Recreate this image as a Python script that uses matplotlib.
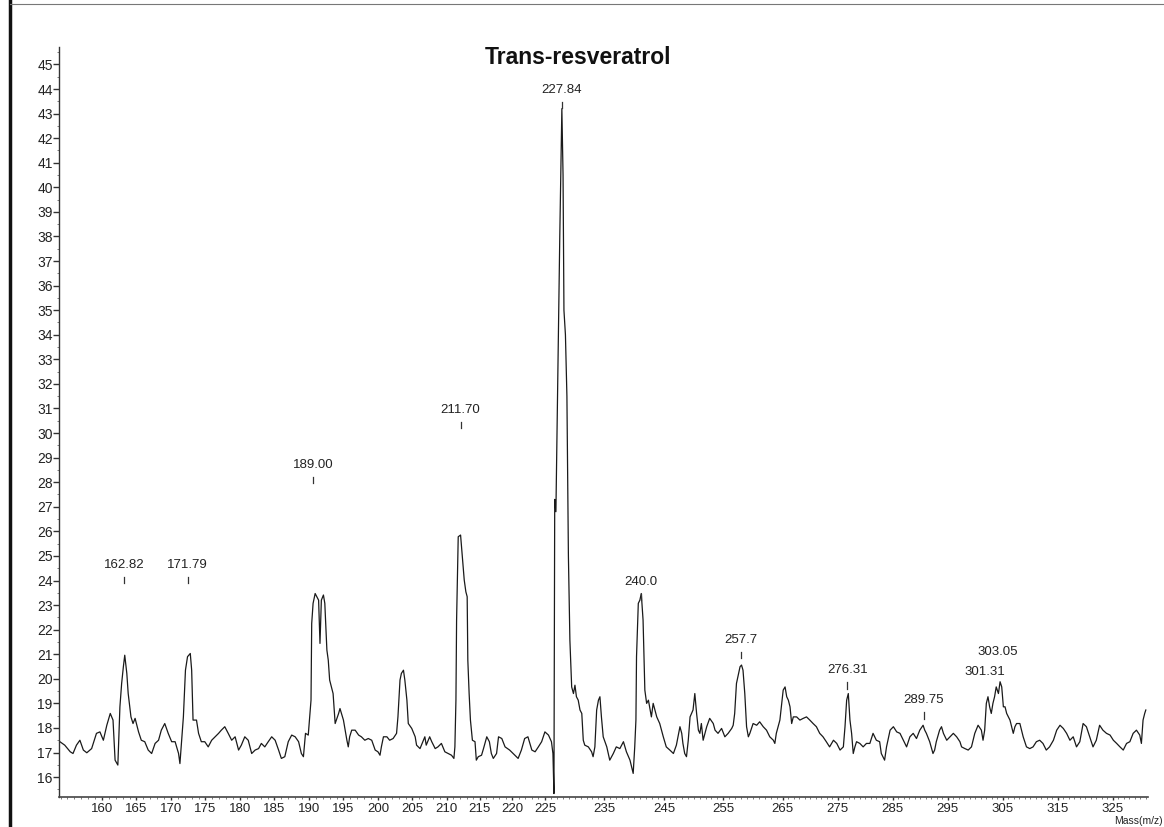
import numpy as np
import matplotlib
matplotlib.use("Agg")
import matplotlib.pyplot as plt
from matplotlib.lines import Line2D

plt.rcParams["font.family"] = ["Liberation Sans", "DejaVu Sans"]

# ---------------- data (m/z, intensity) ----------------
mz_a = [153.9, 154.6, 155.4, 155.8, 156.3, 156.8, 157.3, 157.8, 158.5, 159.2,
        159.7, 160.2, 160.7, 161.2, 161.6, 161.9, 162.3, 162.6, 162.85, 163.1,
        163.3, 163.6, 163.8, 164.2, 164.5, 164.8, 165.3, 165.7, 166.2, 166.7,
        167.2, 167.7, 168.2, 168.6, 169.1, 169.6, 170.1, 170.6, 171.1, 171.3,
        171.5, 171.8, 172.1, 172.4, 172.8, 173.0, 173.2, 173.7, 174.0, 174.4,
        174.9, 175.4, 175.9, 176.4, 176.9, 177.3, 177.8, 178.3, 178.8, 179.3,
        179.8, 180.2, 180.7, 181.2, 181.7, 182.2, 182.7, 183.1, 183.6, 184.1,
        184.6, 185.1, 185.6, 186.0, 186.5, 187.0, 187.5, 188.0, 188.5, 188.9,
        189.2, 189.5, 189.9, 190.3, 190.4, 190.6, 190.9, 191.4, 191.6, 191.8,
        192.1, 192.3, 192.6, 192.8, 193.0, 193.5, 193.8, 194.3, 194.5, 195.0]
int_a = [17.44, 17.30, 17.03, 16.96, 17.30, 17.50, 17.10, 16.99, 17.16, 17.78,
         17.84, 17.50, 18.11, 18.59, 18.32, 16.69, 16.49, 18.86, 19.81, 20.49,
         20.96, 20.22, 19.40, 18.45, 18.18, 18.39, 17.84, 17.50, 17.44, 17.10,
         16.96, 17.37, 17.50, 17.91, 18.18, 17.78, 17.44, 17.44, 16.96, 16.55,
         17.30, 18.45, 20.35, 20.90, 21.03, 20.35, 18.32, 18.32, 17.78, 17.44,
         17.44, 17.23, 17.50, 17.64, 17.78, 17.91, 18.05, 17.78, 17.50, 17.64,
         17.10, 17.30, 17.64, 17.50, 16.96, 17.10, 17.16, 17.37, 17.23, 17.44,
         17.64, 17.50, 17.10, 16.76, 16.83, 17.44, 17.71, 17.64, 17.44, 16.96,
         16.83, 17.78, 17.71, 19.13, 22.25, 23.07, 23.47, 23.20, 21.44, 23.20,
         23.41, 23.07, 21.17, 20.76, 19.95, 19.40, 18.18, 18.59, 18.79, 18.32]

mz_b = [195.5, 195.7, 195.9, 196.2, 196.7, 197.2, 197.6, 198.1, 198.6, 199.1,
        199.6, 200.0, 200.3, 200.5, 200.8, 201.3, 201.7, 202.2, 202.7, 202.9,
        203.2, 203.4, 203.7, 203.9, 204.2, 204.4, 204.9, 205.4, 205.6, 206.1,
        206.6, 206.8, 207.0, 207.5, 207.8, 208.3, 208.7, 209.2, 209.7, 210.2,
        210.7, 211.07, 211.22, 211.38, 211.48, 211.73, 212.09, 212.4, 212.65, 212.9,
        213.1, 213.2, 213.4, 213.6, 213.9, 214.3, 214.5, 214.8, 215.3, 215.6,
        216.1, 216.5, 216.8, 217.1, 217.6, 217.9, 218.4, 218.9, 219.6, 220.4,
        220.9, 221.4, 221.9, 222.4, 223.0, 223.5, 224.0, 224.5, 225.0, 225.6,
        226.1, 226.35, 226.52, 226.65, 226.85, 227.5, 227.85, 228.05, 228.2, 228.45,
        228.7, 228.95, 229.2, 229.5, 229.8, 230.05, 230.3, 230.6, 230.9, 231.2,
        231.45, 231.7, 232.3, 232.85, 233.1, 233.4, 233.7, 234.0, 234.25]
int_b = [17.50, 17.23, 17.64, 17.91, 17.91, 17.71, 17.64, 17.50, 17.57, 17.50,
         17.10, 17.03, 16.89, 17.23, 17.64, 17.64, 17.50, 17.57, 17.78, 18.45,
         19.95, 20.22, 20.35, 19.95, 19.13, 18.18, 17.98, 17.64, 17.30, 17.16,
         17.50, 17.64, 17.30, 17.64, 17.44, 17.16, 17.23, 17.37, 17.03, 16.96,
         16.89, 16.76, 17.23, 19.13, 22.39, 25.78, 25.85, 24.83, 24.02, 23.54,
         23.34, 20.76, 19.40, 18.32, 17.50, 17.44, 16.69, 16.83, 16.89, 17.16,
         17.64, 17.44, 16.96, 16.76, 16.96, 17.64, 17.57, 17.23, 17.10, 16.89,
         16.76, 17.10, 17.57, 17.64, 17.10, 17.03, 17.23, 17.44, 17.84, 17.71,
         17.44, 16.96, 15.33, 27.30, 26.80, 38.00, 43.20, 40.50, 35.00, 34.00,
         31.50, 25.00, 21.57, 19.67, 19.40, 19.74, 19.27, 19.13, 18.73, 18.59,
         17.50, 17.30, 17.23, 17.03, 16.83, 17.23, 18.73, 19.13, 19.27]

mz_c = [234.5, 234.8, 235.4, 235.9, 236.5, 237.0, 237.6, 238.2, 238.7, 239.3,
        239.84, 240.1, 240.3, 240.4, 240.7, 240.96, 241.2, 241.5, 241.8, 242.1,
        242.4, 242.6, 242.9, 243.2, 243.5, 243.8, 244.3, 244.9, 245.4, 246.0,
        246.6, 247.1, 247.7, 248.0, 248.2, 248.5, 248.8, 249.1, 249.4, 249.9,
        250.2, 250.5, 250.8, 251.05, 251.3, 251.6, 252.2, 252.7, 253.3, 253.6,
        254.1, 254.7, 255.25, 255.8, 256.4, 256.65, 256.9, 257.2, 257.8, 258.05,
        258.3, 258.6, 258.9, 259.2, 259.45, 260.0, 260.6, 261.1, 261.7, 262.25,
        262.8, 263.4, 263.65, 263.9, 264.5, 265.06, 265.4, 265.7, 266.0, 266.3,
        266.6, 266.9, 267.5, 268.1, 268.7, 269.3, 269.9, 270.5, 271.1, 271.7,
        272.3, 272.9, 273.5, 274.2, 274.8, 275.4, 276.0, 276.3, 276.6, 276.9,
        277.2, 277.5, 277.8, 278.1, 278.4, 279.0, 279.6, 280.2]
int_c = [18.45, 17.64, 17.23, 16.69, 16.96, 17.23, 17.16, 17.44, 17.03, 16.69,
         16.15, 17.23, 18.32, 20.90, 23.07, 23.20, 23.47, 22.39, 19.54, 19.00,
         19.13, 18.86, 18.45, 19.00, 18.73, 18.45, 18.18, 17.64, 17.23, 17.10,
         16.96, 17.30, 18.05, 17.78, 17.37, 16.96, 16.83, 17.50, 18.45, 18.73,
         19.40, 18.59, 17.91, 17.78, 18.18, 17.50, 18.05, 18.39, 18.18, 17.91,
         17.78, 17.98, 17.64, 17.78, 17.98, 18.11, 18.59, 19.81, 20.49, 20.56,
         20.35, 19.40, 18.05, 17.64, 17.78, 18.18, 18.11, 18.25, 18.05, 17.91,
         17.64, 17.50, 17.37, 17.78, 18.32, 19.54, 19.67, 19.27, 19.13, 18.86,
         18.18, 18.45, 18.45, 18.32, 18.39, 18.45, 18.32, 18.18, 18.05, 17.78,
         17.64, 17.44, 17.23, 17.50, 17.37, 17.10, 17.23, 18.05, 19.13, 19.40,
         18.32, 17.78, 16.96, 17.23, 17.44, 17.37, 17.23, 17.37]

mz_d = [280.82, 281.4, 282.0, 282.6, 282.9, 283.5, 283.85, 284.5, 285.1, 285.7,
        286.3, 286.9, 287.5, 288.1, 288.7, 289.3, 289.9, 290.5, 290.8, 291.1,
        291.7, 292.3, 292.6, 292.9, 293.5, 293.85, 294.2, 294.8, 295.4, 296.0,
        296.6, 297.2, 297.5, 298.1, 298.7, 299.3, 299.9, 300.5, 301.1, 301.4,
        301.7, 302.0, 302.3, 302.6, 302.9, 303.2, 303.5, 303.8, 304.2, 304.5,
        304.8, 305.1, 305.4, 305.7, 306.3, 306.6, 306.9, 307.2, 307.5, 308.1,
        308.7, 309.3, 309.9, 310.5, 311.1, 311.7, 312.3, 312.9, 313.5, 314.2,
        314.8, 315.4, 316.0, 316.6, 317.2, 317.8, 318.4, 319.0, 319.6, 320.2,
        320.8, 321.4, 322.0, 322.6, 323.2, 323.85, 324.5, 325.1, 325.7, 326.3,
        326.9, 327.5, 328.1, 328.7, 329.3, 329.9, 330.2, 330.5, 330.8, 331.0]
int_d = [17.37, 17.78, 17.50, 17.44, 16.96, 16.69, 17.23, 17.91, 18.05, 17.84,
         17.78, 17.50, 17.23, 17.64, 17.78, 17.57, 17.91, 18.11, 17.91, 17.78,
         17.44, 16.96, 17.10, 17.44, 17.91, 18.05, 17.78, 17.50, 17.64, 17.78,
         17.64, 17.44, 17.23, 17.16, 17.10, 17.23, 17.78, 18.11, 17.91, 17.50,
         17.91, 19.00, 19.27, 18.86, 18.59, 19.00, 19.27, 19.67, 19.40, 19.88,
         19.67, 18.86, 18.86, 18.59, 18.32, 18.05, 17.78, 18.05, 18.18, 18.18,
         17.64, 17.23, 17.16, 17.23, 17.44, 17.50, 17.37, 17.10, 17.23, 17.50,
         17.91, 18.11, 17.98, 17.78, 17.50, 17.64, 17.23, 17.44, 18.18, 18.05,
         17.64, 17.23, 17.50, 18.11, 17.91, 17.78, 17.71, 17.50, 17.37, 17.23,
         17.10, 17.37, 17.44, 17.78, 17.91, 17.71, 17.37, 18.32, 18.59, 18.73]

peak_labels = ["162.82", "171.79", "189.00", "211.70", "227.84", "240.0",
               "257.7", "276.31", "289.75", "301.31", "303.05"]
peak_label_mz = [163.2, 172.4, 190.6, 212.1, 227.86, 241.2, 258.0, 276.7, 290.6, 301.8, 304.0]
peak_label_y = [24.63, 24.63, 28.70, 30.94, 43.96, 23.94, 21.58, 20.35, 19.13, 20.27, 21.09]
peak_has_tick = [True, True, True, True, True, True, True, True, True, False, False]

x_ticks = [160, 165, 170, 175, 180, 185, 190, 195, 200, 205, 210, 215, 220, 225,
           235, 245, 255, 265, 275, 285, 295, 305, 315, 325]
y_ticks = list(range(16, 46))

# piecewise-linear mass axis of the instrument printout
scale_mz = [150, 160, 210, 225, 265, 325, 340]
scale_pos = [33, 102, 447, 545, 783, 1113, 1195.5]


def fwd(x):
    return np.interp(x, scale_mz, scale_pos)


def inv(p):
    return np.interp(p, scale_pos, scale_mz)


mz = np.array(mz_a + mz_b + mz_c + mz_d)
inten = np.array(int_a + int_b + int_c + int_d)

W, H = 1164, 827
fig = plt.figure(figsize=(W / 100, H / 100), dpi=100)
ax = fig.add_axes([59 / W, 1 - 797 / H, (1148 - 59) / W, (797 - 47) / H])
ax.set_xscale("function", functions=(fwd, inv))

ax.plot(mz, inten, color="#1a1a1a", lw=0.9)

for lab, x, y, t in zip(peak_labels, peak_label_mz, peak_label_y, peak_has_tick):
    ax.text(x, y, lab, ha="center", va="center", fontsize=9.5, color="#222")
    if t:
        ax.plot([x, x], [y - 0.48, y - 0.75], color="#333", lw=0.9)

ax.set_xlim(153.77, 331.4)
ax.set_ylim(15.19, 45.71)
ax.set_xticks(x_ticks)
ax.set_xticklabels([str(v) for v in x_ticks])
ax.set_xticks(np.arange(154, 332, 1), minor=True)
ax.set_yticks(y_ticks)
ax.set_yticklabels([str(v) for v in y_ticks])
ax.set_yticks(np.arange(15.5, 45.6, 0.5), minor=True)

for s in ("top", "right"):
    ax.spines[s].set_visible(False)
ax.spines["left"].set_color("#333")
ax.spines["left"].set_linewidth(1.0)
ax.spines["bottom"].set_color("#444")
ax.spines["bottom"].set_linewidth(1.2)

ax.tick_params(axis="y", which="major", direction="out", length=4, width=1,
               pad=0.5, labelsize=10, labelcolor="#222", color="#333")
ax.tick_params(axis="y", which="minor", direction="out", length=1.5, width=0.6, color="#666")
ax.tick_params(axis="x", which="major", direction="out", length=2.5, width=1,
               pad=1.5, labelsize=9.5, labelcolor="#222", color="#333")
ax.tick_params(axis="x", which="minor", direction="out", length=1.5, width=0.6, color="#666")

fig.text(578 / W, 1 - 57 / H, "Trans-resveratrol", fontsize=16.5, fontweight="bold",
         ha="center", va="center", color="#111")
fig.text(1163 / W, 0.5 / H, "Mass(m/z)", fontsize=7.5, ha="right", va="bottom", color="#222")

# scan border lines
fig.add_artist(Line2D([10.5 / W, 10.5 / W], [0, 1], color="#111", lw=2.5))
fig.add_artist(Line2D([10 / W, 1], [1 - 4 / H, 1 - 4 / H], color="#777", lw=0.8))

fig.savefig("out.png", dpi=100)
